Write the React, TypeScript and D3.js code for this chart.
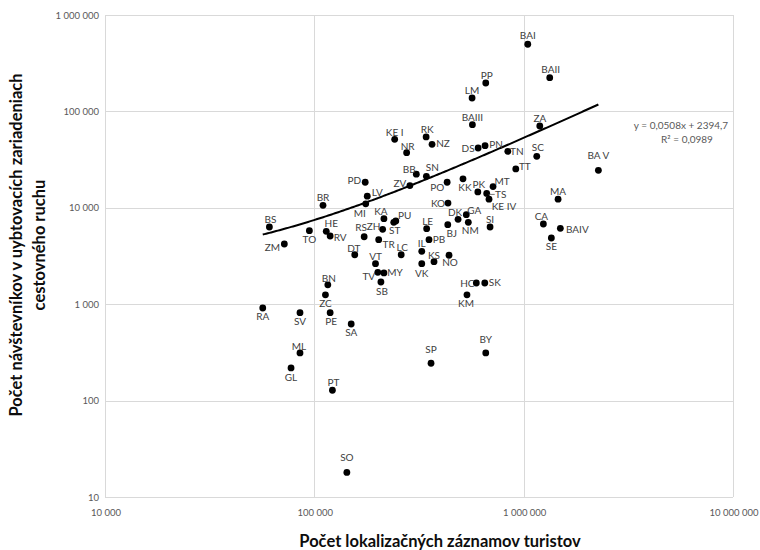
import React from "react";
import * as d3 from "d3";

// Districts: number of geolocated tourist records vs. visitors in accommodation
const names = ["BAI","BAII","PP","LM","BAIII","ZA","KE I","RK","NZ","NR","DS","PN","TN","SC","TT","BA V","BB","SN","ZV","PD","LV","MI","BR","PO","KK","PK","MT","TS","KE IV","MA","KO","DK","GA","NM","BJ","SI","CA","BAIV","SE","KA","PU","ST","ZH","RS","TR","LE","PB","BS","TO","HE","RV","ZM","DT","LC","VT","IL","KS","NO","VK","TV","MY","SB","BN","ZC","HC","SK","KM","RA","SV","PE","SA","ML","GL","PT","SP","BY","SO"];

const records = [1046000,1332000,659000,567000,569000,1194000,242000,342000,365000,276000,606000,654000,840000,1155000,917000,2275000,307000,343000,286000,175000,179000,176000,110000,431000,513000,604000,714000,666000,683000,1460000,435000,486000,532000,544000,434000,691000,1242000,1497000,1356000,215000,245000,239500,212000,173000,203000,344000,353000,61000,94700,114000,119000,71900,156000,260000,196000,326000,373000,440000,326000,201000,215000,208000,116000,113000,594000,652000,536000,56700,85400,119000,150000,85400,77400,122000,361000,659000,143000];

const visitors = [497000,223700,197000,137700,72800,70600,51300,54300,45600,37300,41700,44100,38500,34200,25300,24500,22300,21200,17000,18400,13200,11000,10600,18400,20000,14600,16600,14100,12300,12300,11200,7600,8480,7070,6680,6320,6790,6130,4860,7710,7300,7070,5980,5010,4670,6070,4670,6320,5790,5700,5100,4210,3260,3260,2630,3540,2760,3220,2630,2140,2110,1700,1590,1250,1660,1660,1250,913,816,816,623,312,218,128,244,312,18];

const xTicks = [10000, 100000, 1000000, 10000000];
const yTicks = [10, 100, 1000, 10000, 100000, 1000000];

// Linear trendline fitted in Excel
const slope = 0.0508;
const intercept = 2394.7;
const rSquared = 0.0989;

const xTitle = "Počet lokalizačných záznamov turistov";
const yTitleLines = ["Počet návštevníkov v uybtovacích zariadeniach", "cestovného ruchu"];

// Label placement (offset of the label centre from its dot)
const labelOffset: Record<string, [number, number]> = {
  "BAI": [0, -9], "BAII": [1, -9], "PP": [1, -8], "LM": [0, -8], "BAIII": [0, -8],
  "ZA": [0, -8], "KE I": [0, -7], "RK": [1, -8], "NZ": [11, -1], "NR": [1, -7],
  "DS": [-10, 0], "PN": [11, -2], "TN": [9, 0], "SC": [1, -9], "TT": [9, -3],
  "BA V": [0, -15], "BB": [-7, -5], "SN": [6, -9], "ZV": [-10, -3], "PD": [-11, -2],
  "LV": [10, -4], "MI": [-6, 9], "BR": [0, -8], "PO": [-10, 5], "KK": [2, 8],
  "PK": [1, -8], "MT": [9, -6], "TS": [14, 1], "KE IV": [15, 7], "MA": [0, -8],
  "KO": [-10, 0], "DK": [-3, -7], "GA": [8, -5], "NM": [2, 8], "BJ": [4, 8],
  "SI": [0, -8], "CA": [-2, -8], "BAIV": [17, 1], "SE": [0, 8], "KA": [-3, -8],
  "PU": [9, -6], "ST": [1, 8], "ZH": [-9, -3], "RS": [-3, -10], "TR": [10, 4],
  "LE": [1, -8], "PB": [10, -1], "BS": [1, -8], "TO": [0, 8], "HE": [5, -8],
  "RV": [10, 1], "ZM": [-12, 3], "DT": [-1, -7], "LC": [1, -8], "VT": [0, -8],
  "IL": [0, -8], "KS": [0, -7], "NO": [1, 7], "VK": [0, 9], "TV": [-9, 4],
  "MY": [11, -1], "SB": [1, 9], "BN": [1, -7], "ZC": [0, 8], "HC": [-9, 0],
  "SK": [10, -1], "KM": [-1, 8], "RA": [0, 8], "SV": [0, 8], "PE": [1, 8],
  "SA": [0, 8], "ML": [-1, -7], "GL": [0, 9], "PT": [1, -8], "SP": [0, -14],
  "BY": [0, -14], "SO": [0, -15],
};

const W = 760;
const H = 550;
const plot = { left: 105, right: 733, top: 15, bottom: 497 };
const font = "Lato, 'Open Sans', sans-serif";

const fmt = (v: number) => d3.format(",")(v).replace(/,/g, " ");
const dec = (v: number, n: number) => v.toFixed(n).replace(".", ",");

export default function App() {
  const x = d3.scaleLog().domain([1e4, 1e7]).range([plot.left, plot.right]);
  const y = d3.scaleLog().domain([10, 1e6]).range([plot.bottom, plot.top]);

  const xMin = d3.min(records) as number;
  const xMax = d3.max(records) as number;
  const trendX = d3.range(0, 201).map((i) => Math.pow(10, Math.log10(xMin) + (i / 200) * (Math.log10(xMax) - Math.log10(xMin))));
  const trend = d3
    .line<number>()
    .x((v) => x(v))
    .y((v) => y(slope * v + intercept))(trendX);

  const points = names.map((n, i) => ({ name: n, cx: x(records[i]), cy: y(visitors[i]) }));

  return (
    <div style={{ position: "absolute", left: 0, top: 0 }}>
      <svg width={W} height={H} style={{ display: "block", background: "#fff" }}>
        {/* grid */}
        <g stroke="#d9d9d9" strokeWidth={1}>
          {yTicks.map((t) => (
            <line key={"gy" + t} x1={plot.left} x2={plot.right} y1={Math.round(y(t)) + 0.5} y2={Math.round(y(t)) + 0.5} />
          ))}
          {xTicks.map((t) => (
            <line key={"gx" + t} x1={Math.round(x(t)) + 0.5} x2={Math.round(x(t)) + 0.5} y1={plot.top} y2={plot.bottom} />
          ))}
        </g>
        {/* tick labels */}
        <g fontFamily={font} fontSize={9.5} fill="#595959">
          {yTicks.map((t) => (
            <text key={"ty" + t} x={99} y={y(t)} textAnchor="end" dominantBaseline="central">
              {fmt(t)}
            </text>
          ))}
          {xTicks.map((t) => (
            <text key={"tx" + t} x={x(t) + 1} y={512} textAnchor="middle" dominantBaseline="central">
              {fmt(t)}
            </text>
          ))}
        </g>
        {/* axis titles */}
        <text x={440} y={547} textAnchor="middle" fontFamily={font} fontWeight={700} fontSize={16.5} fill="#0d0d0d">
          {xTitle}
        </text>
        {yTitleLines.map((l, i) => (
          <text
            key={l}
            transform={`translate(${22 + i * 23},245) rotate(-90)`}
            textAnchor="middle"
            fontFamily={font}
            fontWeight={700}
            fontSize={16.5}
            fill="#0d0d0d"
          >
            {l}
          </text>
        ))}
        {/* trendline */}
        <path d={trend ?? ""} fill="none" stroke="#000" strokeWidth={2} />
        {/* points */}
        <g fill="#000">
          {points.map((p) => (
            <circle key={p.name} cx={p.cx} cy={p.cy} r={3.4} />
          ))}
        </g>
        {/* point labels */}
        <g fontFamily={font} fontSize={10} fill="#404040">
          {points.map((p) => {
            const [dx, dy] = labelOffset[p.name] ?? [0, -8];
            return (
              <text key={"l" + p.name} x={p.cx + dx} y={p.cy + dy} textAnchor="middle" dominantBaseline="central">
                {p.name}
              </text>
            );
          })}
        </g>
        {/* leader line for TS */}
        {points
          .filter((p) => p.name === "TS")
          .map((p) => (
            <line key="lead" x1={p.cx + 2} y1={p.cy + 1} x2={p.cx + 8} y2={p.cy + 1} stroke="#595959" strokeWidth={0.8} />
          ))}
        {/* trendline equation */}
        <g fontFamily={font} fontSize={10} fill="#595959" textAnchor="middle">
          <text x={681} y={125} dominantBaseline="central">
            {`y = ${dec(slope, 4)}x  + ${dec(intercept, 1)}`}
          </text>
          <text x={687} y={139} dominantBaseline="central">
            R² = {dec(rSquared, 4)}
          </text>
        </g>
      </svg>
    </div>
  );
}
